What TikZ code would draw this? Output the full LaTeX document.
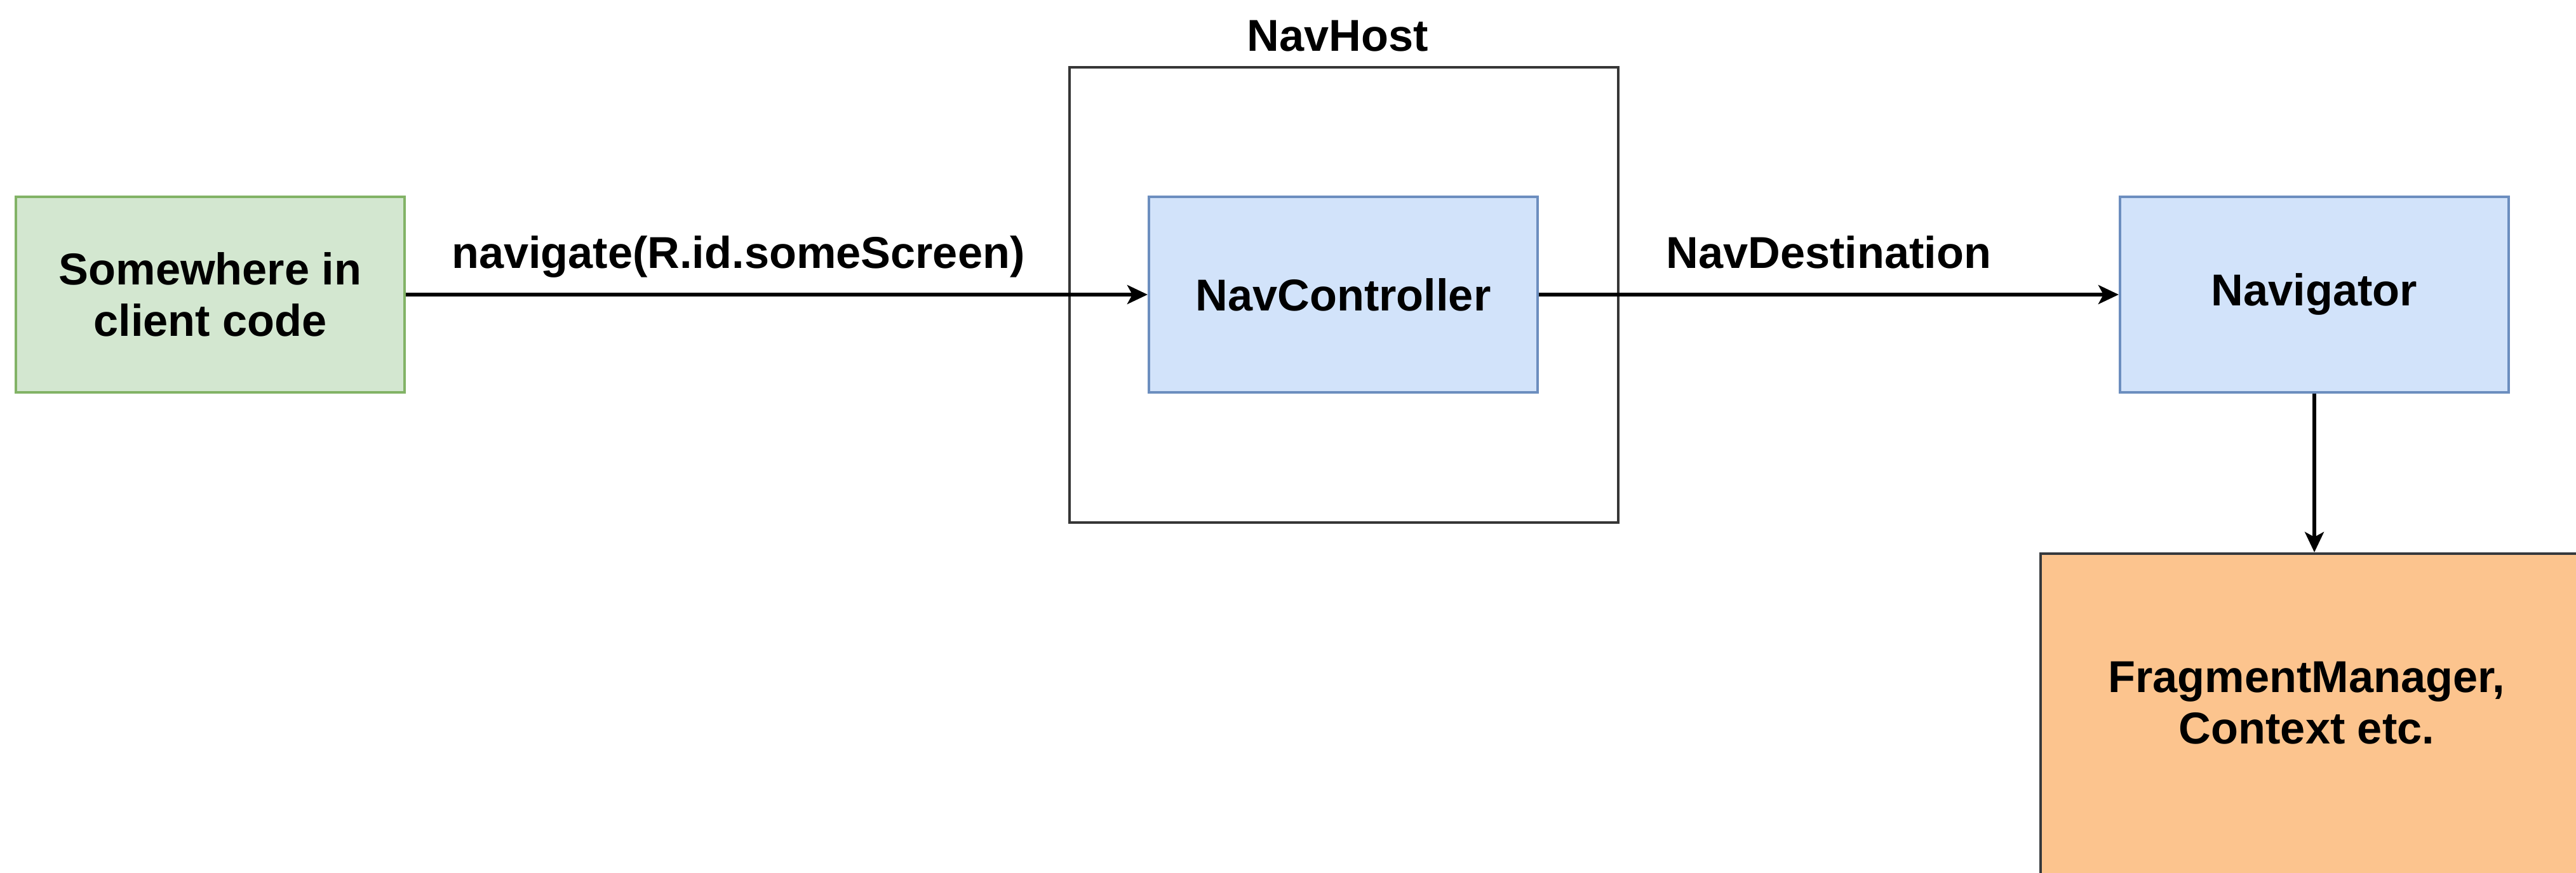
\documentclass[tikz,border=0pt]{standalone}
\usepackage{fontspec}
\setmainfont{Liberation Sans}
\usetikzlibrary{arrows.meta}
\definecolor{clientfill}{RGB}{211,231,208}
\definecolor{clientline}{RGB}{130,179,102}
\definecolor{navfill}{RGB}{210,227,250}
\definecolor{navline}{RGB}{108,142,191}
\definecolor{fragfill}{RGB}{252,196,142}
\definecolor{fragline}{RGB}{54,57,61}
\definecolor{hostline}{RGB}{54,54,54}
\tikzset{
	lbl/.style={font=\fontsize{20}{23}\selectfont\bfseries, align=center},
	edgelbl/.style={lbl, anchor=base, yshift=0.41cm},
	box/.style={lbl, draw, line width=1.2pt, minimum width=6.12cm, minimum height=3.08cm, inner sep=0pt},
	clientbox/.style={box, fill=clientfill, draw=clientline},
	navbox/.style={box, fill=navfill, draw=navline},
	fragbox/.style={box, fill=fragfill, draw=fragline, minimum width=8.62cm, minimum height=6cm},
	hostbox/.style={draw=hostline, line width=1.2pt, minimum width=8.64cm, minimum height=7.17cm, inner sep=0pt},
	flow/.style={line width=1.5pt, -{Stealth[length=0.32cm, width=0.3cm, inset=0.08cm]}}
}

\begin{document}
\begin{tikzpicture}
		%%%%% START %%%%%
		\useasboundingbox (0, 0) rectangle (40.56, 13.75);
		\clip (0, 0) rectangle (40.56, 13.75);
		
		\node[hostbox] (host) at (21.16, 9.105) {};
		\node[lbl] (hostlabel) at (21.06, 13.18) {NavHost};
		
		\node[clientbox] (client) at (3.31, 9.11) {Somewhere in\\client code};
		\node[navbox] (ctrl) at (21.15, 9.11) {NavController};
		\node[navbox] (navig) at (36.44, 9.11) {Navigator};
		
		\node[fragbox] (frag) at (36.44, 2.03) {};
		\node[lbl] (fraglabel) at (36.32, 2.68) {FragmentManager,\\Context etc.};
		
		\draw[flow] (client) -- node[edgelbl, pos=0.448] (navlabel) {navigate(R.id.someScreen)} (ctrl);
		\draw[flow] (ctrl) -- node[edgelbl, pos=0.5] (destlabel) {NavDestination} (navig);
		\draw[flow] (navig) -- (frag);
		
		%%%%% END %%%%%
\end{tikzpicture}
\end{document}
